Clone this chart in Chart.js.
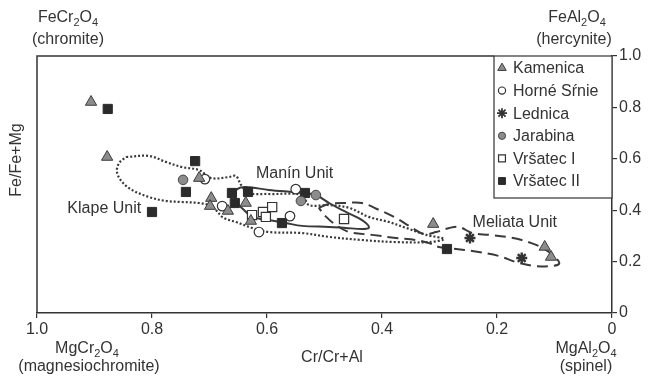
<!DOCTYPE html>
<html>
<head>
<meta charset="utf-8">
<script src="https://cdn.jsdelivr.net/npm/chart.js@4.4.1/dist/chart.umd.min.js"></script>
<style>
html, body { margin: 0; padding: 0; background: #fff; }
#wrap { width: 651px; height: 376px; position: relative; }
</style>
</head>
<body>
<div id="wrap"><canvas id="spinel_chart"></canvas></div>
<script>
// points as [Cr/Cr+Al, Fe/Fe+Mg]
var kamenica = [[0.906,0.821],[0.878,0.607],[0.718,0.525],[0.697,0.447],[0.699,0.416],[0.668,0.397],
                [0.637,0.428],[0.628,0.358],[0.311,0.346],[0.117,0.257],[0.106,0.218]];
var horneSrnie = [[0.708,0.521],[0.678,0.416],[0.550,0.482],[0.560,0.377],[0.614,0.315]];
var lednica = [[0.247,0.292],[0.157,0.214]];
var jarabina = [[0.746,0.518],[0.541,0.436],[0.515,0.459]];
var vrsatec1 = [[0.626,0.381],[0.607,0.393],[0.602,0.374],[0.591,0.412],[0.466,0.366]];
var vrsatec2 = [[0.877,0.794],[0.725,0.591],[0.741,0.471],[0.800,0.393],[0.661,0.467],[0.656,0.428],
                [0.633,0.471],[0.574,0.350],[0.534,0.467],[0.287,0.249]];

// field outlines
var klapeUnit = [[0.845,0.607],[0.805,0.611],[0.776,0.588],[0.748,0.568],[0.718,0.556],[0.697,0.525],
                 [0.666,0.529],[0.654,0.533],[0.645,0.498],[0.631,0.467],[0.597,0.463],[0.539,0.459],
                 [0.527,0.420],[0.492,0.420],[0.457,0.409],[0.423,0.374],[0.388,0.354],[0.358,0.331],
                 [0.323,0.304],[0.292,0.288],[0.318,0.276],[0.376,0.276],[0.435,0.284],[0.492,0.296],
                 [0.539,0.311],[0.597,0.315],[0.626,0.331],[0.654,0.354],[0.666,0.362],[0.678,0.374],
                 [0.689,0.401],[0.701,0.420],[0.718,0.428],[0.748,0.432],[0.776,0.436],[0.805,0.451],
                 [0.835,0.479],[0.852,0.510],[0.861,0.549],[0.857,0.584],[0.845,0.607]];
var maninUnit = [[0.657,0.459],[0.652,0.482],[0.637,0.490],[0.597,0.479],[0.539,0.467],[0.515,0.459],
                 [0.492,0.428],[0.470,0.401],[0.445,0.374],[0.428,0.350],[0.423,0.331],[0.435,0.327],
                 [0.463,0.331],[0.492,0.335],[0.539,0.339],[0.567,0.350],[0.597,0.362],[0.626,0.374],
                 [0.640,0.401],[0.652,0.428],[0.657,0.459]];
var meliataUnit = [[0.510,0.409],[0.492,0.424],[0.463,0.428],[0.435,0.428],[0.405,0.401],[0.376,0.370],
                   [0.353,0.339],[0.327,0.307],[0.306,0.315],[0.283,0.331],[0.266,0.335],[0.243,0.311],
                   [0.214,0.304],[0.184,0.296],[0.157,0.284],[0.132,0.265],[0.115,0.245],[0.097,0.214],
                   [0.092,0.191],[0.106,0.183],[0.136,0.183],[0.167,0.198],[0.197,0.222],[0.243,0.241],
                   [0.271,0.249],[0.301,0.257],[0.318,0.272],[0.341,0.284],[0.376,0.292],[0.417,0.304],
                   [0.457,0.315],[0.480,0.342],[0.497,0.374],[0.510,0.409]];

var axisTicks = [0, 0.2, 0.4, 0.6, 0.8, 1.0];
var tickText = ["0", "0.2", "0.4", "0.6", "0.8", "1.0"];

var FONT = '"Liberation Sans", Arial, sans-serif';
var INK = '#333333';

function xy(arr){
  return arr.map(function(p){ return {x: p[0], y: p[1]}; });
}

function pointSet(label, arr, style, radius, bg, border, bw){
  return {
    label: label, data: xy(arr), showLine: false,
    pointStyle: style, pointRadius: radius, pointHoverRadius: radius,
    backgroundColor: bg, borderColor: border, pointBorderWidth: bw
  };
}

function fieldSet(label, arr, dash, width){
  return {
    label: label, data: xy(arr), showLine: true, fill: false,
    pointRadius: 0, borderColor: '#3a3a3a', borderWidth: width,
    borderDash: dash, tension: 0.35
  };
}

var pointSets = [
  pointSet('Kamenica', kamenica, 'triangle', 6.5, '#8c8c8c', '#3c3c3c', 1),
  pointSet('Horné Sŕnie', horneSrnie, 'circle', 4.8, '#ffffff', '#333333', 1.2),
  pointSet('Lednica', lednica, 'star', 5.5, '#333333', '#333333', 2.4),
  pointSet('Jarabina', jarabina, 'circle', 4.8, '#8c8c8c', '#444444', 1),
  pointSet('Vršatec I', vrsatec1, 'rect', 6.5, '#ffffff', '#333333', 1.2),
  pointSet('Vršatec II', vrsatec2, 'rect', 6.5, '#2b2b2b', '#2b2b2b', 1)
];

var data_spinel = {
  datasets: pointSets.concat([
    fieldSet('Klape Unit', klapeUnit, [2, 2], 2.2),
    fieldSet('Manín Unit', maninUnit, [], 2),
    fieldSet('Meliata Unit', meliataUnit, [11, 6], 2)
  ])
};

// subscript-aware text: parts = [[text, sub?], ...]
function drawFormula(ctx, parts, cx, cy){
  var w = 0;
  parts.forEach(function(p){
    ctx.font = (p[1] ? '11px ' : '16px ') + FONT;
    w += ctx.measureText(p[0]).width;
  });
  var x = cx - w / 2;
  ctx.textAlign = 'left';
  ctx.textBaseline = 'middle';
  parts.forEach(function(p){
    ctx.font = (p[1] ? '11px ' : '16px ') + FONT;
    ctx.fillText(p[0], x, p[1] ? cy + 5 : cy);
    x += ctx.measureText(p[0]).width;
  });
}

var decor = {
  id: 'decor',
  afterDatasetsDraw: function(chart){
    var ctx = chart.ctx, a = chart.chartArea;
    var sx = chart.scales.x, sy = chart.scales.y;
    ctx.save();
    ctx.strokeStyle = INK;
    ctx.lineWidth = 1.5;
    ctx.setLineDash([]);
    // frame: left and top
    ctx.beginPath();
    ctx.moveTo(a.left, a.bottom);
    ctx.lineTo(a.left, a.top);
    ctx.lineTo(494, a.top);
    ctx.stroke();

    // legend box
    var bx = 494, by = a.top, bw = a.right - 494, bh = 142;
    ctx.fillStyle = '#fff';
    ctx.fillRect(bx, by, bw, bh);
    ctx.lineWidth = 1.2;
    ctx.strokeRect(bx, by, bw, bh);
    pointSets.forEach(function(ds, i){
      var ly = by + 12 + i * 22.6;
      var isStar = ds.pointStyle === 'star';
      ctx.fillStyle = ds.backgroundColor;
      ctx.strokeStyle = ds.borderColor;
      ctx.lineWidth = isStar ? 1.8 : ds.pointBorderWidth;
      Chart.helpers.drawPoint(ctx, {
        pointStyle: ds.pointStyle, radius: isStar ? 5 : ds.pointRadius * 0.75,
        borderWidth: ctx.lineWidth, rotation: 0
      }, bx + 8, ly);
      ctx.fillStyle = INK;
      ctx.font = '16px ' + FONT;
      ctx.textAlign = 'left';
      ctx.textBaseline = 'middle';
      ctx.fillText(ds.label, bx + 19, ly + 1);
    });

    // field names
    ctx.fillStyle = INK;
    ctx.font = '16px ' + FONT;
    ctx.textAlign = 'center';
    ctx.textBaseline = 'middle';
    ctx.fillText('Klape Unit', sx.getPixelForValue(0.883), sy.getPixelForValue(0.405));
    ctx.fillText('Manín Unit', sx.getPixelForValue(0.552), sy.getPixelForValue(0.541));
    ctx.fillText('Meliata Unit', sx.getPixelForValue(0.169), sy.getPixelForValue(0.350));

    // end-member labels
    drawFormula(ctx, [['FeCr',0],['2',1],['O',0],['4',1]], 68, 18);
    drawFormula(ctx, [['(chromite)',0]], 68, 40);
    drawFormula(ctx, [['FeAl',0],['2',1],['O',0],['4',1]], 577, 18);
    drawFormula(ctx, [['(hercynite)',0]], 574, 40);
    drawFormula(ctx, [['MgCr',0],['2',1],['O',0],['4',1]], 87, 349);
    drawFormula(ctx, [['(magnesiochromite)',0]], 89, 367);
    drawFormula(ctx, [['Cr/Cr+Al',0]], 332, 358);
    drawFormula(ctx, [['MgAl',0],['2',1],['O',0],['4',1]], 586, 349);
    drawFormula(ctx, [['(spinel)',0]], 586, 367);

    // y title
    ctx.translate(17, 160);
    ctx.rotate(-Math.PI / 2);
    drawFormula(ctx, [['Fe/Fe+Mg',0]], 0, 0);
    ctx.restore();
  }
};

function tickLabel(v){
  var i = axisTicks.findIndex(function(t){ return Math.abs(t - v) < 1e-6; });
  return i < 0 ? '' : tickText[i];
}

var axisGrid = { display: true, drawOnChartArea: false, drawTicks: true, tickLength: 5, color: INK, lineWidth: 1.2 };
var axisBorder = { display: true, color: INK, width: 1.5 };

const config_spinel = {
  type: 'scatter',
  data: data_spinel,
  options: {
    responsive: true,
    maintainAspectRatio: false,
    animation: false,
    layout: { padding: { left: 37, top: 56, right: 0, bottom: 0 } },
    plugins: { legend: { display: false }, tooltip: { enabled: false } },
    scales: {
      x: {
        type: 'linear', position: 'bottom', reverse: true, min: 0, max: 1,
        afterBuildTicks: function(s){ s.ticks = axisTicks.map(function(v){ return {value: v}; }); },
        afterFit: function(s){ s.height = 63; },
        ticks: { callback: tickLabel, color: INK, font: { family: FONT, size: 16 }, padding: 2, maxRotation: 0 },
        grid: axisGrid, border: axisBorder
      },
      y: {
        type: 'linear', position: 'right', min: 0, max: 1,
        afterBuildTicks: function(s){ s.ticks = axisTicks.map(function(v){ return {value: v}; }); },
        afterFit: function(s){ s.width = 39; },
        ticks: { callback: tickLabel, color: INK, font: { family: FONT, size: 16 }, padding: 2 },
        grid: axisGrid, border: axisBorder
      }
    }
  },
  plugins: [decor]
};

function makespinelchart(){
  var ctx = document.getElementById('spinel_chart');
  var chart = new Chart(ctx, config_spinel);
  return chart;
}
makespinelchart();
</script>
</body>
</html>
